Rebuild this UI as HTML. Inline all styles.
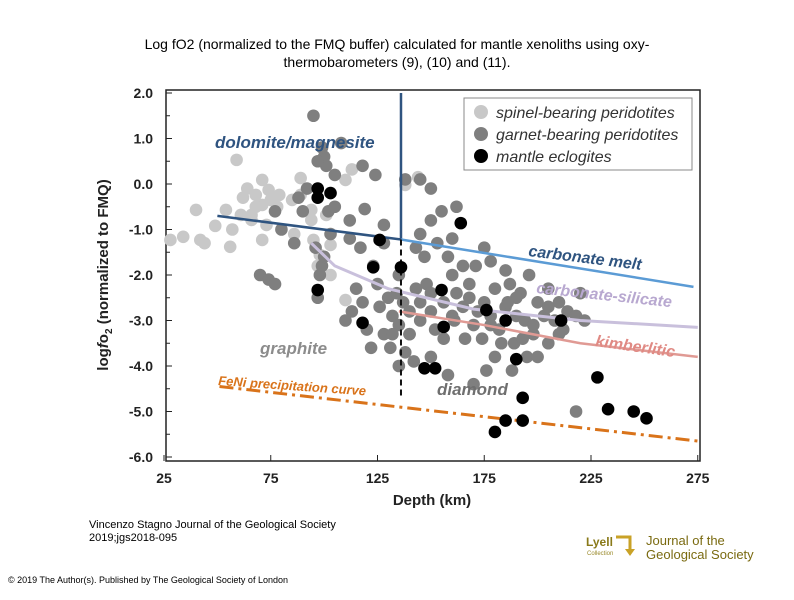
<!DOCTYPE html>
<html><head><meta charset="utf-8"><style>
body{margin:0;background:#fff;}
svg text{font-family:"Liberation Sans",Arial,sans-serif;}
</style></head><body>
<svg width="794" height="595" viewBox="0 0 794 595" xmlns="http://www.w3.org/2000/svg">
<text x="397" y="49" font-size="14" text-anchor="middle">Log fO2 (normalized to the FMQ buffer) calculated for mantle xenoliths using oxy-</text>
<text x="397" y="67" font-size="14" text-anchor="middle">thermobarometers (9), (10) and (11).</text>
<g id="chart"></g>
<text x="89" y="528" font-size="11">Vincenzo Stagno Journal of the Geological Society</text>
<text x="89" y="541" font-size="11">2019;jgs2018-095</text>
<text x="8" y="583" font-size="9">© 2019 The Author(s). Published by The Geological Society of London</text>
<g>
<text x="586" y="546" font-size="12" font-weight="bold" fill="#8a7a1a">Lyell</text>
<text x="587" y="555" font-size="6" fill="#9a8a2a">Collection</text>
<path d="M616 537 H630 V552" stroke="#c9a227" stroke-width="3" fill="none"/>
<path d="M625 549 L630 556 L635 549" fill="#c9a227"/>
<text x="646" y="545" font-size="13" fill="#7a6a10">Journal of the</text>
<text x="646" y="559" font-size="13" fill="#7a6a10">Geological Society</text>
</g>
</svg>
<script>
const xTicks=[25,75,125,175,225,275];
const yTicks=[2,1,0,-1,-2,-3,-4,-5,-6];
const spinelDepth=[59,71,74,79,75,68,66,54,61,40,34,42,44,56,49,57,89,94,101,103,98,103,110,95,94,85,71,73,89,110,138,144,113,28,66,71,64,78,68,62,86,97];
const spinelLog=[0.53,0.09,-0.13,-0.24,-0.35,-0.24,-0.68,-0.57,-0.68,-0.57,-1.16,-1.23,-1.3,-1.38,-0.92,-1.0,-0.24,-0.57,-0.68,-1.34,-1.56,-2.0,-2.55,-1.23,-0.79,-0.35,-0.46,-0.9,0.13,0.09,-0.02,0.15,0.32,-1.23,-0.79,-1.23,-0.1,-0.5,-0.5,-0.3,-1.1,-1.8];
const garnetDepth=[95,100,101,99,108,88,105,118,124,128,117,119,102,90,77,70,74,77,98,97,99,96,112,123,130,113,110,120,122,128,131,132,134,135,135,140,140,143,145,145,148,150,152,153,158,160,162,161,165,168,170,171,174,175,178,180,180,182,185,187,189,190,192,194,196,198,200,203,205,208,210,214,218,222,220,212,195,188,176,170,158,150,142,138,135,140,147,150,145,143,155,162,175,178,185,190,200,205,210,218,160,165,150,156,166,183,198,145,150,138,100,103,115,118,126,128,92,97,105,112,86,80,125,132,137,156,172,186,178,193,205,160,168];
const garnetLog=[1.5,0.6,0.4,0.8,0.9,-0.3,0.2,0.4,0.2,-0.9,-1.4,-0.55,-0.6,-0.6,-0.6,-2.0,-2.1,-2.2,-2.0,-2.5,-1.8,-1.4,-1.2,-1.8,-2.5,-2.8,-3.0,-3.2,-3.6,-3.3,-3.6,-2.9,-2.4,-2.0,-3.1,-2.8,-3.3,-2.3,-2.6,-3.0,-2.2,-2.8,-3.2,-1.3,-1.6,-2.0,-2.4,-3.0,-2.7,-2.2,-3.1,-1.8,-3.4,-2.6,-2.9,-2.3,-3.8,-3.2,-2.7,-2.2,-3.5,-2.9,-2.4,-3.0,-2.0,-3.3,-2.6,-2.9,-2.3,-3.0,-2.6,-2.8,-2.9,-3.0,-2.4,-3.2,-3.8,-4.1,-4.1,-4.4,-4.2,-3.8,-3.9,-3.7,-4.0,-3.3,-1.6,-0.8,-1.1,-1.4,-0.6,-0.5,-1.4,-1.7,-1.9,-2.5,-3.8,-3.5,-3.3,-5.0,-1.2,-1.8,-2.4,-3.4,-3.4,-3.5,-3.1,0.1,-0.1,0.1,-1.6,-1.1,-2.3,-2.6,-2.7,-1.3,-0.1,0.5,-0.5,-0.8,-1.3,-1.0,-2.2,-3.3,-2.6,-2.6,-2.8,-2.6,-3.1,-3.4,-2.7,-2.9,-2.5];
const eclDepth=[97,97,103,164,126,123,136,97,118,155,156,176,185,147,152,190,180,185,193,193,211,228,233,245,251];
const eclLog=[-0.1,-0.3,-0.2,-0.86,-1.23,-1.83,-1.83,-2.33,-3.05,-2.33,-3.14,-2.77,-3.0,-4.05,-4.05,-3.85,-5.45,-5.2,-5.2,-4.7,-3.0,-4.25,-4.95,-5.0,-5.15];
const dolDepth=[50,136,136];const dolLog=[-0.7,-1.22,2.0];
const meltDepth=[136,273];const meltLog=[-1.22,-2.26];
const csDepth=[94,105,130,170,220,275];const csLog=[-1.3,-1.8,-2.3,-2.75,-3.0,-3.15];
const kimDepth=[135,175,220,275];const kimLog=[-2.8,-3.1,-3.5,-3.8];
const feniDepth=[51,275];const feniLog=[-4.45,-5.65];
const diaDepth=[136,136];const diaLog=[-1.22,-4.7];

const X=d=>164+(d-25)*2.135;
const Y=v=>93+(2-v)*45.5;
const NS='http://www.w3.org/2000/svg';
const g=document.getElementById('chart');
function mk(t,a,p){const e=document.createElementNS(NS,t);for(const k in a)e.setAttribute(k,a[k]);(p||g).appendChild(e);return e;}
const frame=mk('rect',{x:166,y:90,width:534,height:371,fill:'none',stroke:'#222','stroke-width':1.5});


yTicks.forEach(v=>{
  const t=mk('text',{x:153,y:Y(v)+5,'font-size':14,'font-weight':'bold','text-anchor':'end',fill:'#222'});t.textContent=v.toFixed(1);
  
  
  mk('line',{x1:166,x2:172,y1:Y(v),y2:Y(v),stroke:'#222'});
  if(v>-6)mk('line',{x1:166,x2:170,y1:Y(v-0.5),y2:Y(v-0.5),stroke:'#222'});
});
xTicks.forEach(d=>{
  const t=mk('text',{x:X(d),y:483,'font-size':14,'font-weight':'bold','text-anchor':'middle',fill:'#222'});t.textContent=d;
  
  
  mk('line',{x1:X(d),x2:X(d),y1:461,y2:455,stroke:'#222'});
});
const xt=mk('text',{x:432,y:505,'font-size':15,'font-weight':'bold','text-anchor':'middle',fill:'#222'});xt.textContent='Depth (km)';


const yt=mk('text',{x:0,y:0,'font-size':15,'font-weight':'bold','text-anchor':'middle',fill:'#222',transform:'translate(108,275) rotate(-90)'});
yt.innerHTML='log<tspan font-style="italic">f</tspan>o<tspan font-size="10" dy="4">2</tspan><tspan dy="-4"> (normalized to FMQ)</tspan>';


function dots(ds,ls,col,name){ds.forEach((d,i)=>{const c=mk('circle',{cx:X(d),cy:Y(ls[i]),r:6.3,fill:col});
  
  });}
dots(spinelDepth,spinelLog,'#c8c8c8','spinel-point');
dots(garnetDepth,garnetLog,'#7f7f7f','garnet-point');
function line(ds,ls,col,w,dash,name){const p=mk('polyline',{points:ds.map((d,i)=>X(d)+','+Y(ls[i])).join(' '),fill:'none',stroke:col,'stroke-width':w});
  if(dash)p.setAttribute('stroke-dasharray',dash);
  
  }
line(dolDepth,dolLog,'#2f5480',2.5,null,'dolomite-magnesite-line');
line(meltDepth,meltLog,'#5b9bd5',2.5,null,'carbonate-melt-line');
line(csDepth,csLog,'#c9c0dc',3,null,'carbonate-silicate-line');
line(kimDepth,kimLog,'#e09a94',2.5,null,'kimberlitic-line');
line(feniDepth,feniLog,'#d9731a',3,'14,5,3,5','feni-line');
line(diaDepth,diaLog,'#111',2,'6,4','graphite-diamond-line');
dots(eclDepth,eclLog,'#000','eclogite-point');
function lab(x,y,txt,col,sz,rot,name){const t=mk('text',{x:x,y:y,'font-size':sz,'font-weight':'bold','font-style':'italic',fill:col});t.textContent=txt;
  if(rot)t.setAttribute('transform','rotate('+rot+' '+x+' '+y+')');
  
  }
lab(215,148,'dolomite/magnesite','#2f5480',17,0,'label-dolomite');
lab(528,256,'carbonate melt','#2f5480',16,7,'label-carbonate-melt');
lab(536,293,'carbonate-silicate','#b8a8d0',16,6,'label-carbonate-silicate');
lab(595,346,'kimberlitic','#e08a84',16,8,'label-kimberlitic');
lab(260,354,'graphite','#8c8c8c',17,0,'label-graphite');
lab(437,395,'diamond','#6f6f6f',17,0,'label-diamond');
lab(218,385,'FeNi precipitation curve','#d9731a',13,4,'label-feni');
const lg=mk('rect',{x:464,y:98,width:228,height:72,fill:'#fff',stroke:'#888'});


[['spinel-bearing peridotites','#c8c8c8',112],['garnet-bearing peridotites','#7f7f7f',134],['mantle eclogites','#000',156]].forEach(e=>{
  const c=mk('circle',{cx:481,cy:e[2],r:7,fill:e[1]});
  
  
  const t=mk('text',{x:496,y:e[2]+6,'font-size':16,'font-style':'italic',fill:'#333'});t.textContent=e[0];
  
  
});
</script>
</body></html>
